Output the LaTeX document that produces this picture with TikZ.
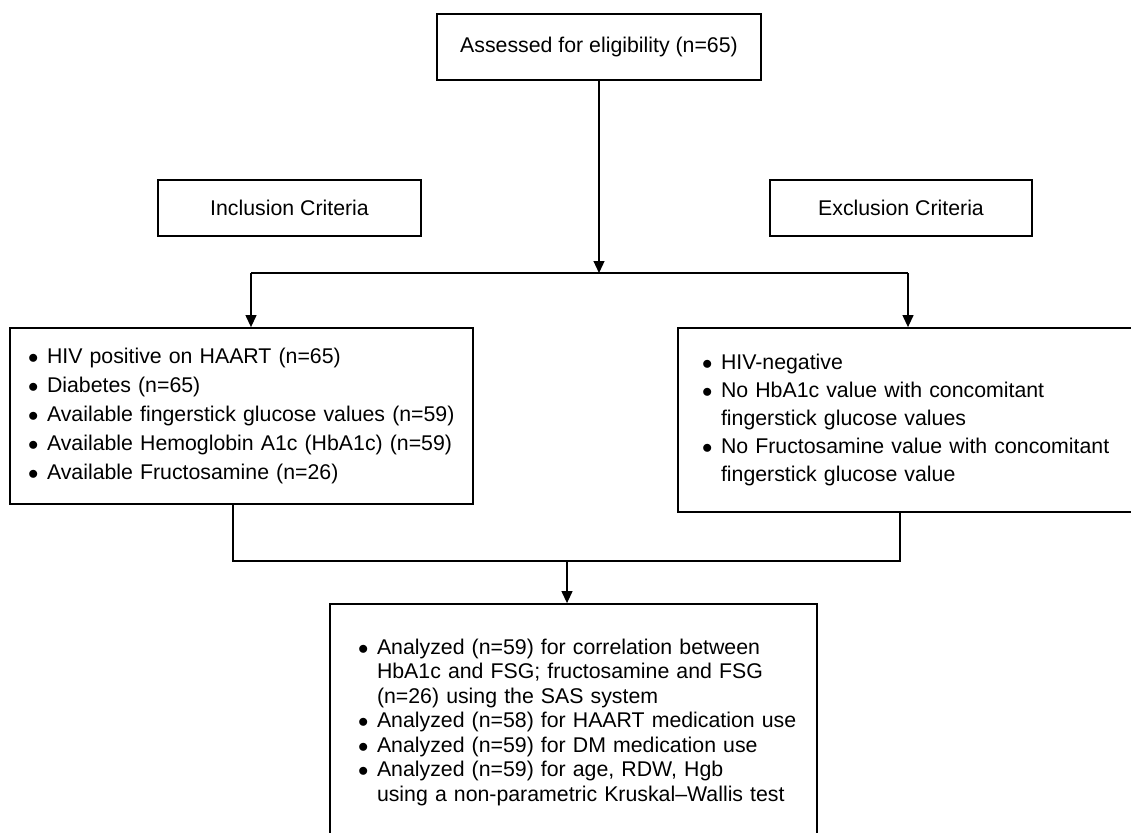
\documentclass[tikz,border=0pt]{standalone}
\usepackage{fontspec}
\setmainfont{Liberation Sans}
\usetikzlibrary{arrows.meta}
\newcommand{\bul}{\makebox[19pt][l]{$\bullet$}}
\newcommand{\cont}{\hspace*{19pt}}

\begin{document}
\begin{tikzpicture}[x=1pt,y=-1pt,line width=1.2pt,
   box/.style={draw,line width=1.8pt,inner sep=0pt,font=\fontsize{21.3}{25}\selectfont},
   list/.style={draw,line width=1.8pt,align=left,inner ysep=0pt},
   arr/.style={-{Triangle[width=11pt,length=12pt]}}]
   \useasboundingbox (0,0) rectangle (1131,832);
   \node[box,minimum width=324pt,minimum height=66pt] (elig) at (599,47) {Assessed for eligibility (n=65)};
   \node[box,minimum width=263pt,minimum height=56pt] (incl) at (289.5,208) {Inclusion Criteria};
   \node[box,minimum width=262pt,minimum height=56pt] (excl) at (901,208) {Exclusion Criteria};
   \node[list,inner xsep=18pt,text width=427pt,minimum height=176pt,
         font=\fontsize{21.3}{28.8}\selectfont] (inbox) at (241.5,416) {%
      \bul HIV positive on HAART (n=65)\\
      \bul Diabetes (n=65)\\
      \bul Available fingerstick glucose values (n=59)\\
      \bul Available Hemoglobin A1c (HbA1c) (n=59)\\
      \bul Available Fructosamine (n=26)};
   \node[list,inner xsep=24pt,text width=422pt,minimum height=184pt,
         font=\fontsize{21.3}{28}\selectfont] (exbox) at (913,420) {%
      \bul HIV-negative\\
      \bul No HbA1c value with concomitant\\
      \cont fingerstick glucose values\\
      \bul No Fructosamine value with concomitant\\
      \cont fingerstick glucose value};
   \node[list,inner xsep=28pt,text width=431pt,minimum height=236pt,
         font=\fontsize{21.3}{24.5}\selectfont] (anbox) at (573.5,722) {%
      \bul Analyzed (n=59) for correlation between\\
      \cont HbA1c and FSG; fructosamine and FSG\\
      \cont (n=26) using the SAS system\\
      \bul\mbox{Analyzed (n=58) for HAART medication use}\\
      \bul Analyzed (n=59) for DM medication use\\
      \bul Analyzed (n=59) for age, RDW, Hgb\\
      \cont using a non-parametric Kruskal--Wallis test};

   \coordinate (jl) at (251,273);
   \coordinate (jr) at (908,273);
   \coordinate (ml) at (233,561);
   \coordinate (mr) at (900,561);
   \coordinate (mm) at (567,561);
   \draw[arr] (elig) -- (elig |- jl);
   \draw (jl) -- (jr);
   \draw[arr] (jl) -- (jl |- inbox.north);
   \draw[arr] (jr) -- (jr |- exbox.north);
   \draw (ml |- inbox.south) -- (ml) -- (mr) -- (mr |- exbox.south);
   \draw[arr] (mm) -- (mm |- anbox.north);
\end{tikzpicture}
\end{document}
